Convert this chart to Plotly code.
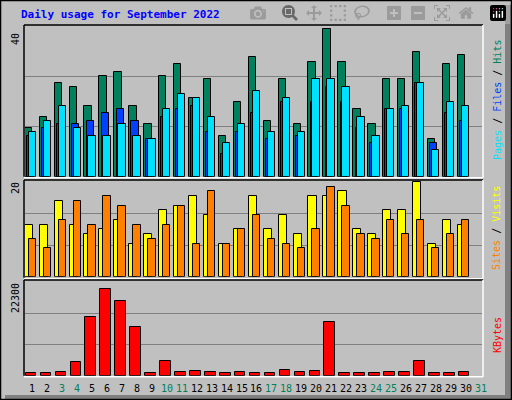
import plotly.graph_objects as go

# Daily usage, September 2022
days = list(range(1, 31))
hits = [13, 16, 25, 24, 19, 27, 28, 19, 14, 27, 30, 21, 26, 11, 20,
        32, 15, 26, 14, 30.5, 39.3, 30.5, 18, 14, 26, 26, 33.4, 10, 30, 32.6]
files = [11, 13, 14, 14, 15, 17, 18, 15, 10, 16, 18, 19, 12, 6, 12,
         17, 10, 20, 11, 20, 24, 20, 13, 9, 18, 18, 25, 9, 17, 15]
pages = [12, 15, 19, 13, 11, 11, 14, 11, 10, 18, 22, 21, 16, 9, 14,
         23, 12, 21, 12, 26, 26, 24, 16, 11, 18, 19, 25, 7, 20, 19]
visits = [11, 11, 16, 11, 9, 10, 12, 7, 9, 14, 15, 17, 13, 7, 10,
          17, 10, 13, 9, 17, 17, 18, 10, 9, 14, 14, 20, 7, 12, 11]
sites = [8, 6, 12, 16, 11, 17, 15, 11, 8, 11, 15, 7, 18, 7, 10,
         13, 8, 7, 6, 10, 19, 15, 9, 8, 12, 9, 12, 6, 9, 12]
kbytes = [750, 750, 980, 3230, 13900, 20650, 17870, 11570, 750, 3450,
          980, 1200, 980, 530, 980, 750, 750, 1430, 980, 1200,
          12920, 750, 750, 750, 980, 980, 3450, 530, 530, 980]
label_days = list(range(1, 32))
weekend = [3, 4, 10, 11, 17, 18, 24, 25, 31]

BG = "#C0C0C0"
GREEN = "#00805C"
W, H = 512, 400


def px(xp):
    return xp / W


def py(yp):
    return 1 - yp / H


fig = go.Figure()

def add_bars(x, y, color, off, width, ax):
    fig.add_trace(go.Bar(x=x, y=y, offset=off, width=width, marker_color=color,
                         marker_line=dict(color="black", width=1),
                         xaxis="x" if ax == "y" else "x" + ax[1:], yaxis=ax,
                         hoverinfo="skip"))

add_bars(days, hits, GREEN, -0.52, 0.49, "y")
add_bars(days, files, "#0040FF", -0.37, 0.49, "y")
add_bars(days, pages, "#00E0FF", -0.25, 0.49, "y")
add_bars(days, visits, "#FFFF00", -0.52, 0.55, "y2")
add_bars(days, sites, "#FF8000", -0.25, 0.49, "y2")
add_bars(days, kbytes, "#FF0000", -0.45, 0.71, "y3")

xdom = [px(25), px(482)]
xcommon = dict(domain=xdom, range=[0.5, 31.1], showticklabels=False,
               showgrid=False, zeroline=False, fixedrange=True)
ycommon = dict(showticklabels=False, gridcolor="#808080", gridwidth=1,
               zeroline=False, showline=False)

fig.update_layout(
    width=W, height=H, margin=dict(l=0, r=0, t=0, b=0),
    paper_bgcolor=BG, plot_bgcolor=BG, showlegend=False,
    barmode="overlay", bargap=0,
    xaxis=dict(xcommon, anchor="y"),
    xaxis2=dict(xcommon, anchor="y2"),
    xaxis3=dict(xcommon, anchor="y3"),
    yaxis=dict(ycommon, domain=[py(176.7), py(25)], range=[0, 40.5],
               tickvals=[40 / 3, 80 / 3], anchor="x"),
    yaxis2=dict(ycommon, domain=[py(276.7), py(180)], range=[0, 20.4],
                tickvals=[20 / 3, 40 / 3], anchor="x2"),
    yaxis3=dict(ycommon, domain=[py(375.7), py(280)], range=[0, 22300 * 297 / 290],
                tickvals=[22300 / 3, 44600 / 3], anchor="x3"),
)

mono = "DejaVu Sans Mono"
ann = []
ann.append(dict(text="<b>Daily usage for September 2022</b>", x=px(19), y=py(15),
                xref="paper", yref="paper", xanchor="left", yanchor="middle",
                showarrow=False, font=dict(family=mono, size=11, color="#0000FF")))
for lab, yy in [("40", 39), ("20", 188), ("22300", 298)]:
    ann.append(dict(text=lab, x=px(15), y=py(yy), xref="paper", yref="paper",
                    textangle=-90, xanchor="center", yanchor="middle",
                    showarrow=False, font=dict(family=mono, size=10, color="black")))
for d in label_days:
    ann.append(dict(text=str(d), x=d, y=py(388), xref="x3", yref="paper",
                    xanchor="center", yanchor="middle", showarrow=False,
                    font=dict(family=mono, size=10,
                              color=GREEN if d in weekend else "black")))
side = [
    ("<span style='color:#00E0FF'>Pages</span> / "
     "<span style='color:#0040FF'>Files</span> / "
     "<span style='color:#00805C'>Hits</span>", 100),
    ("<span style='color:#FF8000'>Sites</span> / "
     "<span style='color:#FFFF00'>Visits</span>", 228),
    ("<span style='color:#FF0000'>KBytes</span>", 335),
]
for txt, yy in side:
    ann.append(dict(text=txt, x=px(497), y=py(yy), xref="paper", yref="paper",
                    textangle=-90, xanchor="center", yanchor="middle",
                    showarrow=False, font=dict(family=mono, size=10, color="black")))
fig.update_layout(annotations=ann)

# 3D-looking frames around each panel and the image
shapes = []
for top, bot in [(25, 176.7), (180, 277.7), (280, 375.7)]:
    shapes.append(dict(type="line", xref="paper", yref="paper", x0=px(24), x1=px(483),
                       y0=py(top), y1=py(top), line=dict(color="black", width=1.5)))
    shapes.append(dict(type="line", xref="paper", yref="paper", x0=px(24), x1=px(24),
                       y0=py(top), y1=py(bot), line=dict(color="black", width=1.5)))
    shapes.append(dict(type="line", xref="paper", yref="paper", x0=px(24), x1=px(483),
                       y0=py(bot + 1), y1=py(bot + 1), line=dict(color="white", width=1.5)))
    shapes.append(dict(type="line", xref="paper", yref="paper", x0=px(483), x1=px(483),
                       y0=py(top), y1=py(bot + 1), line=dict(color="white", width=1.5)))
shapes.append(dict(type="rect", xref="paper", yref="paper", x0=px(505), x1=1,
                   y0=0, y1=py(5), fillcolor="#808080", line_width=0, layer="below"))
shapes.append(dict(type="rect", xref="paper", yref="paper", x0=px(5), x1=1,
                   y0=0, y1=py(395), fillcolor="#808080", line_width=0, layer="below"))
shapes.append(dict(type="rect", xref="paper", yref="paper", x0=0.001, x1=0.999,
                   y0=0.001, y1=0.999, line=dict(color="black", width=1.5)))
fig.update_layout(shapes=shapes)

# remove default page margin so the 512x400 figure fills the window
fig.write_html("out.html",
               post_script="document.body.style.margin='0';document.body.style.overflow='hidden';")
